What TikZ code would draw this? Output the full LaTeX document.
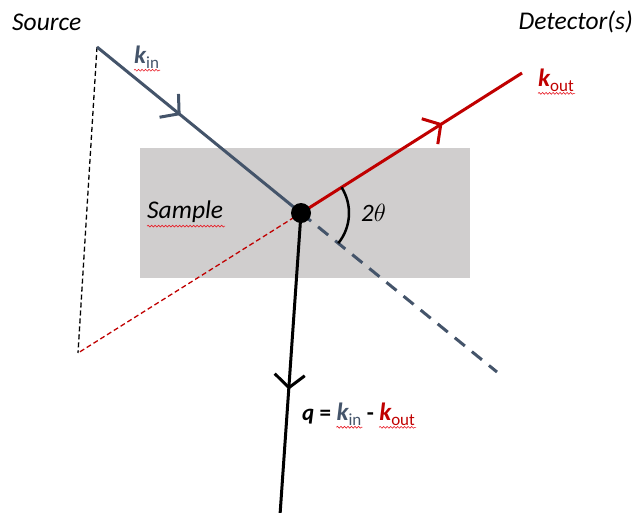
\documentclass[tikz,border=0pt]{standalone}
\usepackage{fontspec}
\setmainfont{Carlito}
\usetikzlibrary{arrows.meta,decorations.markings,decorations.pathmorphing}
\definecolor{slate}{HTML}{44546A}
\definecolor{dred}{HTML}{C00000}
\definecolor{samplegray}{HTML}{D0CECE}
\definecolor{spellred}{HTML}{E8202A}
\newcommand\kvec[2]{{\color{#1}\fontsize{25}{28}\selectfont\bfseries\itshape k\raisebox{-5pt}{\fontsize{17}{18}\selectfont\mdseries\upshape #2}}}
\begin{document}
\begin{tikzpicture}[x=1pt,y=-1pt,
  midarrow/.style={postaction={decorate},decoration={markings,mark=at position #1 with {\arrow{Straight Barb[length=13pt,width=30pt]}}}},
  spell/.style={spellred, line width=0.6pt, decorate, decoration={snake,segment length=3.5pt,amplitude=0.9pt}},
  lbl/.style={inner sep=0pt},
  big/.style={font=\fontsize{25.5}{28}\selectfont\itshape},
  qfont/.style={font=\fontsize{23}{26}\selectfont\bfseries},
]
\useasboundingbox (0,0) rectangle (639,512);
\node[fill=samplegray, minimum width=330pt, minimum height=130pt, inner sep=0pt, anchor=north west] (box) at (140,148) {};

\coordinate (src) at (97,47);
\coordinate (O) at (301,213);
\coordinate (det) at (522,73);
\coordinate (dend) at (497,372);
\coordinate (rend) at (78,353);
\coordinate (qend) at (280,515);

\draw[black, line width=1.3pt, dash pattern=on 5pt off 3pt] (src) -- (rend);
\draw[dred, line width=1.3pt, dash pattern=on 5pt off 3pt] (O) -- (rend);
\draw[slate, line width=3pt, dash pattern=on 13pt off 9pt] (O) -- (dend);
\draw[slate, line width=3pt, midarrow=0.41] (src) -- (O);
\draw[dred, line width=3pt, midarrow=0.64] (O) -- (det);
\draw[black, line width=3pt, midarrow=0.585] (O) -- (qend);
\draw[black, line width=2.5pt] (O) ++(-32.35:48) arc[start angle=-32.35, end angle=39, radius=48];
\node[circle, fill=black, minimum size=20pt, inner sep=0pt] (dot) at (O) {};

\node[lbl, big, anchor=west] (source) at (12,22) {Source};
\node[lbl, big, anchor=east] (detector) at (633,22) {Detector(s)};
\node[lbl, big, anchor=west] (sample) at (147,212) {Sample};
\node[lbl, anchor=west, font=\fontsize{25}{28}\selectfont] (twotheta) at (361,213) {\itshape 2$\theta$};
\node[lbl, anchor=base west] (kin) at (134,63) {\kvec{slate}{in}};
\node[lbl, anchor=base west] (kout) at (538,86) {\kvec{dred}{out}};

\node[lbl, qfont, anchor=base west] (qq) at (302,420) {\itshape q};
\node[lbl, qfont, anchor=base west] (qeq) at ([xshift=5pt]qq.base east) {=};
\node[lbl, anchor=base west] (qkin) at ([xshift=5pt]qeq.base east) {\kvec{slate}{in}};
\node[lbl, qfont, anchor=base west] (qminus) at ([xshift=5pt]qkin.base east) {-};
\node[lbl, anchor=base west] (qkout) at ([xshift=5pt]qminus.base east) {\kvec{dred}{out}};

\draw[spell] (sample.south west) ++(0,3) -- ++(78,0);
\draw[spell] (kin.south west) ++(0,2) -- ++(26,0);
\draw[spell] (kout.south west) ++(0,2) -- ++(37,0);
\draw[spell] (qkin.south west) ++(0,2) -- ++(26,0);
\draw[spell] (qkout.south west) ++(0,2) -- ++(37,0);
\end{tikzpicture}
\end{document}
